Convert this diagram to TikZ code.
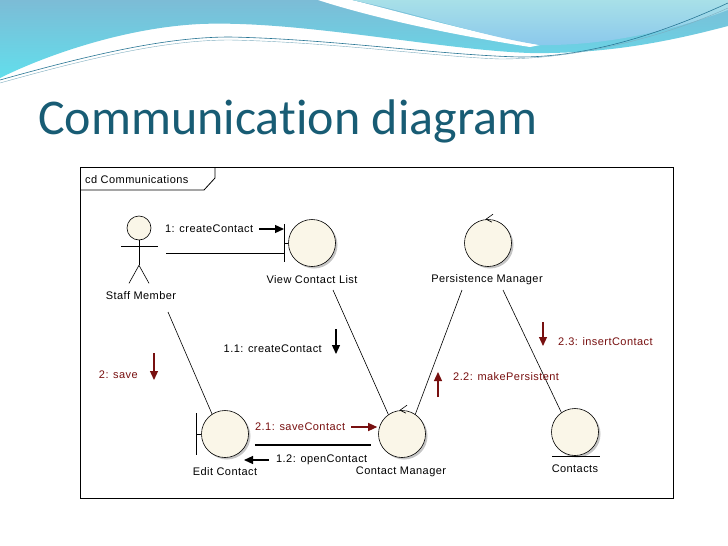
\documentclass[tikz,border=0pt]{standalone}
\usepackage{fontspec}
\setmainfont{Liberation Sans}
\newfontfamily\titlefont[Ligatures={NoCommon,NoContextual}]{Carlito}
\newfontfamily\umlfont[LetterSpace=4]{Liberation Sans}
\usepackage{xcolor}
\usetikzlibrary{arrows.meta,shadows}
\definecolor{TitleBlue}{RGB}{24,92,116}
\definecolor{MsgRed}{RGB}{120,16,16}
\definecolor{ObjFill}{RGB}{250,246,232}
\definecolor{WaveBlue}{RGB}{124,188,214}
\definecolor{WaveCyan}{RGB}{98,222,236}
\definecolor{WaveAqua}{RGB}{168,224,232}
\definecolor{WaveSky}{RGB}{138,200,236}
\definecolor{WaveLine}{RGB}{40,118,148}

\begin{document}
\begin{tikzpicture}[x=1pt,y=-1pt,
  obj/.style={circle,draw,fill=ObjFill,minimum size=47pt,inner sep=0pt,line width=0.6pt,
    drop shadow={shadow xshift=2pt,shadow yshift=-2pt,opacity=0.45}},
  lbl/.style={font=\umlfont\fontsize{11}{13}\selectfont,inner sep=1pt},
  msgtxt/.style={lbl},
  redtxt/.style={lbl,text=MsgRed},
  msg/.style={-{Triangle[length=9pt,width=8pt]},line width=1.2pt},
  redmsg/.style={msg,draw=MsgRed},
  link/.style={line width=0.6pt}]
%%%%% Background %%%%%
\useasboundingbox (0,0) rectangle (728,546);
\fill[white] (0,0) rectangle (728,546);
\shade[top color=WaveBlue,bottom color=WaveCyan] (0,0) -- (728,0) -- (728,26)
  .. controls (660,44) and (600,54) .. (530,53)
  .. controls (440,50) and (300,20) .. (200,24)
  .. controls (120,28) and (40,58) .. (0,78) -- cycle;
\fill[white] (318,0) .. controls (380,20) and (460,36) .. (530,47)
  -- (540,45) .. controls (470,32) and (400,12) .. (352,0) -- cycle;
\shade[top color=WaveAqua,bottom color=WaveSky] (352,0)
  .. controls (420,14) and (480,36) .. (540,45)
  .. controls (610,46) and (680,28) .. (728,10) -- (728,0) -- cycle;
\draw[WaveLine,line width=0.6pt] (0,80) .. controls (100,52) and (170,37) .. (230,37)
  .. controls (330,39) and (440,55) .. (520,57) .. controls (600,57) and (680,25) .. (728,3);
\draw[WaveLine!60,line width=0.4pt] (0,83) .. controls (100,55) and (170,40) .. (230,40)
  .. controls (330,42) and (440,57) .. (500,59) .. controls (590,59) and (680,30) .. (728,8);
%%%%% Title %%%%%
\node[anchor=base west,inner sep=0pt,text=TitleBlue,font=\titlefont\fontsize{50}{60}\selectfont]
  (title) at (38,134) {Communica\kern0pt tion diagram};
%%%%% Frame %%%%%
\fill[white] (80,167) rectangle (673,498);
\draw[line width=0.8pt] (80,167) rectangle (673,498);
\draw[line width=0.8pt] (80,190) -- (204,190) -- (215,178) -- (215,167);
\node[lbl,anchor=west] (frame) at (84,180) {cd Communications};
%%%%% Actor %%%%%
\node[circle,draw,fill=ObjFill,minimum size=24pt,inner sep=0pt,line width=0.6pt] (smhead) at (139,228) {};
\draw[link] (smhead.south) -- ++(0,25) coordinate (smhip);
\draw[link] (121,246) -- (158,246);
\draw[link] (smhip) -- ++(-10,18);
\draw[link] (smhip) -- ++(10,18);
\node[lbl] (smlbl) at (141,296) {Staff Member};
%%%%% Objects %%%%%
\node[obj] (vcl) at (312,243) {};
\coordinate (vclbar) at (284,243);
\draw[link] ([yshift=19pt]vclbar) -- ([yshift=-19pt]vclbar);
\draw[link] (vclbar) -- (vcl.west);
\node[lbl] (vcllbl) at (312,280) {View Contact List};

\node[obj] (pm) at (488,243) {};
\draw[link] ([shift={(5pt,5pt)}]pm.north) -- ([xshift=-2pt]pm.north) -- ([shift={(4pt,-3pt)}]pm.north);
\node[lbl] (pmlbl) at (487,280) {Persistence Manager};

\node[obj] (ec) at (225,434) {};
\coordinate (ecbar) at (196,434);
\draw[link] ([yshift=21pt]ecbar) -- ([yshift=-21pt]ecbar);
\draw[link] (ecbar) -- (ec.west);
\node[lbl] (eclbl) at (225,472) {Edit Contact};

\node[obj] (cm) at (402,434) {};
\draw[link] ([shift={(5pt,5pt)}]cm.north) -- ([xshift=-2pt]cm.north) -- ([shift={(4pt,-3pt)}]cm.north);
\node[lbl] (cmlbl) at (401,472) {Contact Manager};

\node[obj] (ct) at (575,432) {};
\draw[link] ([xshift=-23pt]ct.south) -- ([xshift=25pt]ct.south);
\node[lbl] (ctlbl) at (575,469) {Contacts};
%%%%% Links %%%%%
\coordinate (smarm) at (166,253);
\coordinate (smlink) at (168,312);
\coordinate (vcllink) at (333,290);
\coordinate (pmleft) at (462,290);
\coordinate (pmright) at (503,290);
\draw[link] (smarm) -- (vclbar |- smarm);
\draw[link] (smlink) -- (ec.123);
\draw[link] (vcllink) -- (cm.125);
\draw[link] (cm.56) -- (pmleft);
\draw[link] (pmright) -- (ct.125);
\draw[line width=1.2pt] ([shift={(6pt,-11pt)}]ec.east) -- ([shift={(-7pt,-11pt)}]cm.west);
%%%%% Messages %%%%%
\node[msgtxt,anchor=west] (m1) at (164,229) {1: createContact};
\draw[msg] ([xshift=5pt]m1.east) -- (vclbar |- m1.east);
\node[msgtxt,anchor=east] (m11) at (323,349) {1.1: createContact};
\draw[msg] ([shift={(13pt,20pt)}]m11.east) -- ++(0,25);
\node[redtxt,anchor=east] (m2) at (139,375) {2: save};
\draw[redmsg] ([shift={(15pt,22pt)}]m2.east) -- ++(0,27);
\node[redtxt,anchor=west] (m21) at (254,427) {2.1: saveContact};
\draw[redmsg] ([xshift=-27pt]cm.west |- m21.east) -- ([xshift=-1pt]cm.west |- m21.east);
\node[msgtxt,anchor=west] (m12) at (275,460) {1.2: openContact};
\draw[msg] ([xshift=-6pt]m12.west) -- ++(-25,0);
\node[redtxt,anchor=west] (m22) at (452,377) {2.2: makePersistent};
\draw[redmsg] ([shift={(-14pt,-20pt)}]m22.west) -- ++(0,-25);
\node[redtxt,anchor=west] (m23) at (557,342) {2.3: insertContact};
\draw[redmsg] ([shift={(-14pt,20pt)}]m23.west) -- ++(0,24);
\end{tikzpicture}
\end{document}
